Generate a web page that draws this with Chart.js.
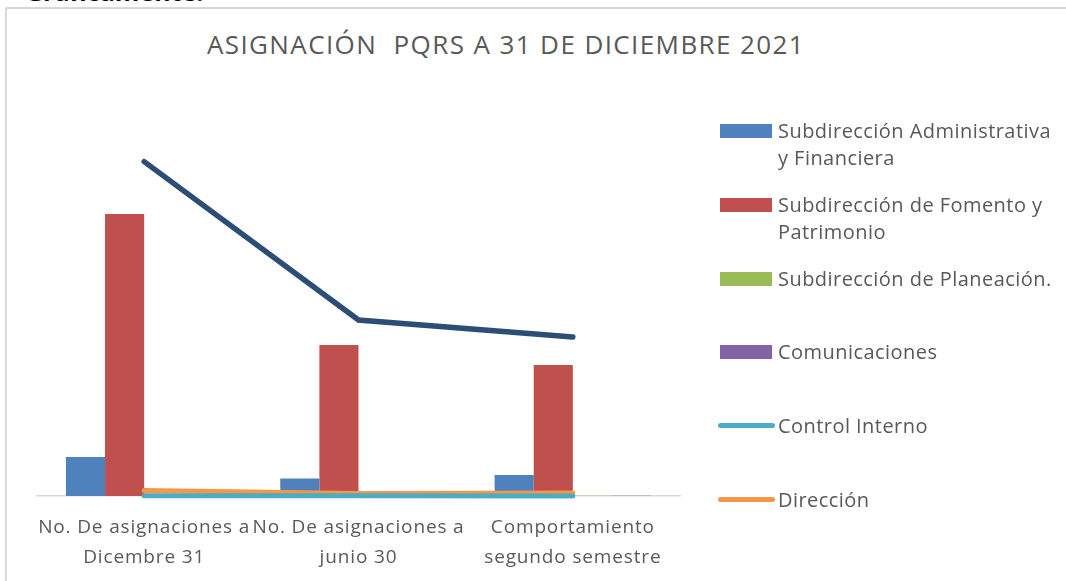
<!DOCTYPE html>
<html>
<head>
    <title>Asignación PQRS</title>
    <script src="https://cdn.jsdelivr.net/npm/chart.js"></script>
    <style>
        body {
            margin: 0;
            background-color: white;
            width: 1066px;
            height: 581px;
            overflow: hidden;
            position: relative;
            font-family: "Open Sans", Lato, sans-serif;
        }

        #topText {
            position: absolute;
            left: 25px;
            top: -26px;
            font-size: 25px;
            font-weight: bold;
            color: #000;
            white-space: nowrap;
        }

        #frame {
            position: absolute;
            left: 5px;
            top: 7px;
            width: 1100px;
            height: 600px;
            border-left: 2px solid #d9d9d9;
            border-top: 2px solid #d9d9d9;
        }

        #chartTitle {
            position: absolute;
            left: 0;
            width: 1012px;
            top: 26px;
            text-align: center;
            font-size: 26px;
            letter-spacing: 1.4px;
            color: #595959;
            white-space: pre;
        }

        #pqrsChart {
            position: absolute;
            left: 0;
            top: 0;
        }

        .legendItem {
            position: absolute;
            left: 718px;
            width: 348px;
            color: #595959;
            font-size: 20px;
            letter-spacing: 0.45px;
            line-height: 27px;
            white-space: nowrap;
        }

        .legendItem .swatch {
            position: absolute;
            left: 2px;
            top: 7px;
            width: 52px;
            height: 14px;
        }

        .legendItem .swatch.line {
            left: 0;
            top: 11px;
            width: 57px;
            height: 5px;
            border-radius: 3px;
        }

        .legendItem .text {
            margin-left: 60px;
        }
    </style>
</head>
<body>
    <div id="topText">Gráficamente:</div>
    <div id="frame"></div>
    <div id="chartTitle">ASIGNACIÓN  PQRS A 31 DE DICIEMBRE 2021</div>
    <canvas id="pqrsChart" width="1066" height="581"></canvas>
    <div id="legend"></div>

    <script>
        const categories = [
            ["No. De asignaciones a", "Dicembre 31"],
            ["No. De asignaciones a", "junio 30"],
            ["Comportamiento", "segundo semestre"]
        ];

        const administrativa = [195, 88, 105];
        const fomento = [1410, 755, 655];
        const planeacion = [1, 0, 1];
        const comunicaciones = [1, 0, 1];
        const controlInterno = [1, 1, 0];
        const direccion = [27, 12, 15];
        const total = [1672, 880, 795];

        const legendLines = [
            ["Subdirección Administrativa", "y Financiera"],
            ["Subdirección de Fomento y", "Patrimonio"],
            ["Subdirección de Planeación."],
            ["Comunicaciones"],
            ["Control Interno"],
            ["Dirección"]
        ];

        const barStyle = { borderWidth: 0, barPercentage: 1, categoryPercentage: 0.73, order: 2 };
        const lineStyle = { type: 'line', borderWidth: 5, pointRadius: 0, borderCapStyle: 'round', tension: 0, clip: false, fill: false, order: 1 };

        // a little letter spacing for the axis labels (closer to the original font)
        const spacingPlugin = {
            id: 'spacing',
            beforeDraw: (chart) => { chart.ctx.letterSpacing = '0.85px'; }
        };

        const ctx = document.getElementById('pqrsChart').getContext('2d');
        const chart = new Chart(ctx, {
            type: 'bar',
            data: {
                labels: categories,
                datasets: [
                    { label: 'Subdirección Administrativa y Financiera', data: administrativa, backgroundColor: '#4f81bd', ...barStyle },
                    { label: 'Subdirección de Fomento y Patrimonio', data: fomento, backgroundColor: '#c0504d', ...barStyle },
                    { label: 'Subdirección de Planeación.', data: planeacion, backgroundColor: '#9bbb59', ...barStyle },
                    { label: 'Comunicaciones', data: comunicaciones, backgroundColor: '#8064a2', ...barStyle },
                    { label: 'Control Interno', data: controlInterno, borderColor: '#4bacc6', backgroundColor: '#4bacc6', ...lineStyle },
                    { label: 'Dirección', data: direccion, borderColor: '#f79646', backgroundColor: '#f79646', ...lineStyle },
                    { label: 'Total', data: total, borderColor: '#2c4d75', backgroundColor: '#2c4d75', ...lineStyle, borderWidth: 5.5 }
                ]
            },
            options: {
                responsive: false,
                animation: false,
                layout: {
                    padding: { left: 37, right: 386, top: 96, bottom: 5 }
                },
                scales: {
                    x: {
                        grid: { display: false },
                        border: { display: true, color: '#d9d9d9', width: 1.5 },
                        ticks: {
                            autoSkip: false,
                            maxRotation: 0,
                            minRotation: 0,
                            color: '#595959',
                            padding: 9,
                            font: { family: 'Open Sans', size: 19, lineHeight: 1.56 }
                        },
                        afterFit: (scale) => { scale.height = 80; }
                    },
                    y: {
                        display: false,
                        min: 0,
                        max: 2000
                    }
                },
                plugins: {
                    legend: { display: false },
                    tooltip: { enabled: false }
                }
            },
            plugins: [spacingPlugin]
        });

        // html legend built from the chart datasets (Total has no entry)
        const legendEl = document.getElementById('legend');
        chart.data.datasets.slice(0, 6).forEach((ds, i) => {
            const item = document.createElement('div');
            item.className = 'legendItem';
            item.style.top = (117 + i * 73.8) + 'px';
            const sw = document.createElement('div');
            sw.className = 'swatch' + (ds.type === 'line' ? ' line' : '');
            sw.style.background = ds.backgroundColor;
            const txt = document.createElement('div');
            txt.className = 'text';
            txt.innerHTML = legendLines[i].join('<br>');
            item.appendChild(sw);
            item.appendChild(txt);
            legendEl.appendChild(item);
        });
    </script>
</body>
</html>
